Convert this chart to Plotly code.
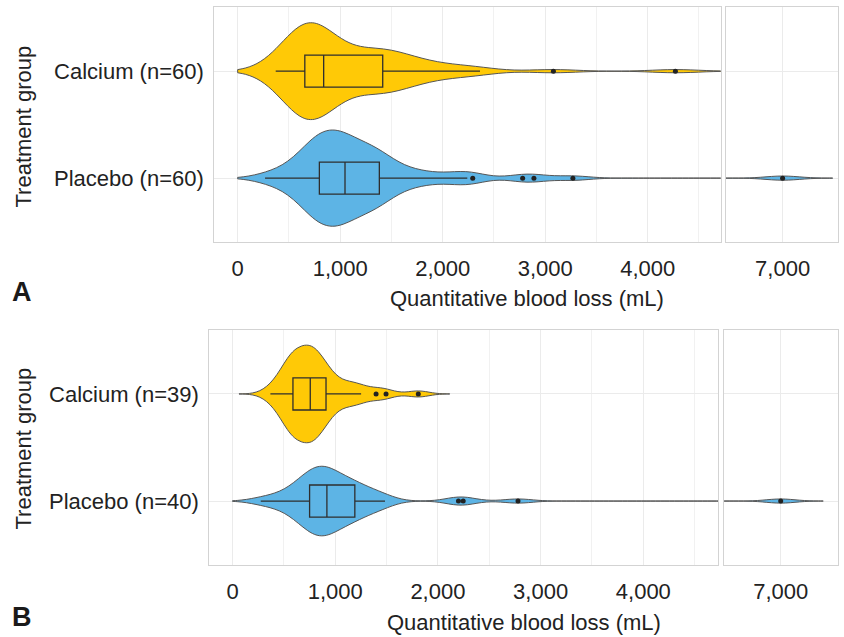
import numpy as np
import plotly.graph_objects as go

# ---------------- data (estimated individual observations, mL) ----------------
calcium_a = [371, 420, 470, 510, 540, 565, 585, 600, 615, 625, 635, 642, 648, 652, 654,
             656,
             670, 685, 700, 710, 720, 730, 740, 755, 770, 785, 800, 815, 830, 838,
             840,
             870, 910, 950, 1000, 1050, 1100, 1150, 1200, 1250, 1300, 1340, 1380, 1400, 1412,
             1418,
             1450, 1500, 1550, 1600, 1650, 1700, 1780, 1850, 1950, 2100, 2250, 2364,
             3080, 4270]

placebo_a = [267, 380, 470, 540, 590, 630, 660, 690, 715, 735, 750, 765, 778, 788, 795,
             799,
             820, 845, 870, 890, 910, 925, 940, 955, 970, 985, 1000, 1015, 1030, 1045,
             1049,
             1070, 1095, 1120, 1145, 1170, 1195, 1220, 1250, 1280, 1310, 1335, 1355, 1370, 1380,
             1384,
             1420, 1480, 1550, 1620, 1700, 1800, 1950, 2150, 2240,
             2293, 2780, 2890, 3270, 7000]

calcium_b = [369, 430, 480, 520, 545, 565, 575, 582, 586, 588,
             590,
             620, 650, 680, 700, 715, 730, 742, 752,
             757,
             765, 775, 790, 810, 830, 850, 870, 890, 906,
             912,
             960, 1020, 1080, 1150, 1200, 1252,
             1398, 1495, 1809]

placebo_b = [275, 400, 500, 570, 620, 660, 690, 715, 735, 749,
             752,
             780, 810, 835, 855, 870, 885, 895, 905, 917,
             921,
             950, 980, 1010, 1040, 1070, 1100, 1130, 1160, 1189,
             1193,
             1250, 1310, 1370, 1430, 1485,
             2200, 2246, 2780, 7000]

labels_a = ["Calcium (n=60)", "Placebo (n=60)"]
labels_b = ["Calcium (n=39)", "Placebo (n=40)"]
x_ticks = [0, 1000, 2000, 3000, 4000, 7000]
x_title = "Quantitative blood loss (mL)"
y_title = "Treatment group"

# ---------------- style ----------------
W, H = 844, 637
FONT = "Liberation Sans, Arial, Helvetica, sans-serif"
YELLOW = "#FFC906"
BLUE = "#5DB4E5"
OUTLINE = "#555555"
BOXLINE = "#2e2e2e"
BORDER = "#d3d3d3"
GRID = "#ebebeb"
TXT = "#222222"

def px_x(p):
    return min(1.0, max(0.0, p / W))

def px_y(p):
    return min(1.0, max(0.0, 1 - p / H))

fig = go.Figure()

panels = [
    dict(groups=[(calcium_a, YELLOW), (placebo_a, BLUE)], labels=labels_a,
         ax=["", "2"], ay=["", "2"], widths=[0.9, 0.9], bws=[225, 163],
         xdom=[(214.3, 720.7), (726.0, 838.4)], ydom=(7.0, 242.3),
         xr=[[-228, 4712], [6447, 7545]], yr=[-0.6, 1.6]),
    dict(groups=[(calcium_b, YELLOW), (placebo_b, BLUE)], labels=labels_b,
         ax=["3", "4"], ay=["3", "4"], widths=[0.91, 0.65], bws=[102, 138],
         xdom=[(209.3, 718.0), (724.0, 837.8)], ydom=(329.7, 565.3),
         xr=[[-226, 4727], [6448, 7556]], yr=[-0.6, 1.6]),
]

layout = {}
for P in panels:
    for side in range(2):
        xs, ys = P["ax"][side], P["ay"][side]
        for (vals, col), lab, vw, bw in zip(P["groups"], P["labels"], P["widths"], P["bws"]):
            arr = np.asarray(vals, dtype=float)
            lo = max(0.0, arr.min() - 3 * bw)
            hi = arr.max() + 3 * bw
            fig.add_trace(go.Violin(
                x=arr, y=[lab] * len(arr), orientation="h",
                xaxis="x" + xs, yaxis="y" + ys,
                fillcolor=col, line=dict(color=OUTLINE, width=1),
                opacity=1, points=False, box_visible=False, meanline_visible=False,
                bandwidth=bw, spanmode="manual", span=[lo, hi],
                scalemode="width", width=vw, showlegend=False, hoverinfo="skip",
            ))
            fig.add_trace(go.Box(
                x=arr, y=[lab] * len(arr), orientation="h",
                xaxis="x" + xs, yaxis="y" + ys,
                fillcolor=col, line=dict(color=BOXLINE, width=1.3),
                whiskerwidth=0, width=0.3, boxpoints="outliers",
                jitter=0, pointpos=0,
                marker=dict(color="#222222", size=5, line=dict(width=0)),
                showlegend=False, hoverinfo="skip",
            ))
        xd = P["xdom"][side]
        xa = dict(
            domain=[px_x(xd[0]), px_x(xd[1])], range=P["xr"][side],
            anchor="y" + ys, tickmode="array", tickvals=x_ticks,
            tickformat=",", showgrid=True, gridcolor=GRID, gridwidth=1,
            zeroline=False, showline=True, linecolor=BORDER, linewidth=1.2,
            mirror=True, ticks="", ticklabelstandoff=6,
            tickfont=dict(family=FONT, size=22, color=TXT),
        )
        if side == 0:
            xa["minor"] = dict(dtick=500, tick0=0, showgrid=True,
                               gridcolor="#f1f1f1", gridwidth=0.8)
        layout["xaxis" + xs] = xa
        layout["yaxis" + ys] = dict(
            domain=[px_y(P["ydom"][1]), px_y(P["ydom"][0])],
            anchor="x" + xs, type="category",
            categoryorder="array", categoryarray=[P["labels"][1], P["labels"][0]],
            range=P["yr"], showgrid=True, gridcolor=GRID, gridwidth=1,
            zeroline=False, showline=True, linecolor=BORDER, linewidth=1.2,
            mirror=True, ticks="", ticklabelstandoff=5,
            showticklabels=(side == 0),
            tickfont=dict(family=FONT, size=22, color=TXT),
        )

def ann(text, x, y, size=22, angle=0, color=TXT):
    return dict(text=text, x=px_x(x), y=px_y(y), xref="paper", yref="paper",
                showarrow=False, xanchor="center", yanchor="middle", textangle=angle,
                font=dict(family=FONT, size=size, color=color))

annotations = [
    ann(x_title, 526.5, 298.3),
    ann(x_title, 523.5, 622.5),
    ann(y_title, 23, 126.5, angle=-90),
    ann(y_title, 23, 448.5, angle=-90),
    ann("<b>A</b>", 21.7, 292.5, size=27, color="#1a1a1a"),
    ann("<b>B</b>", 22, 617, size=27, color="#1a1a1a"),
]

fig.update_layout(
    width=W, height=H, autosize=False,
    margin=dict(l=0, r=0, t=0, b=0),
    paper_bgcolor="white", plot_bgcolor="white",
    violinmode="overlay", boxmode="overlay",
    annotations=annotations,
    font=dict(family=FONT, size=22, color=TXT),
    **layout,
)

# remove the default page margin so the 844x637 figure fills the window exactly
fig.write_html("out.html",
               config={"displayModeBar": False},
               post_script="document.body.style.margin='0px';document.body.style.overflow='hidden';")
